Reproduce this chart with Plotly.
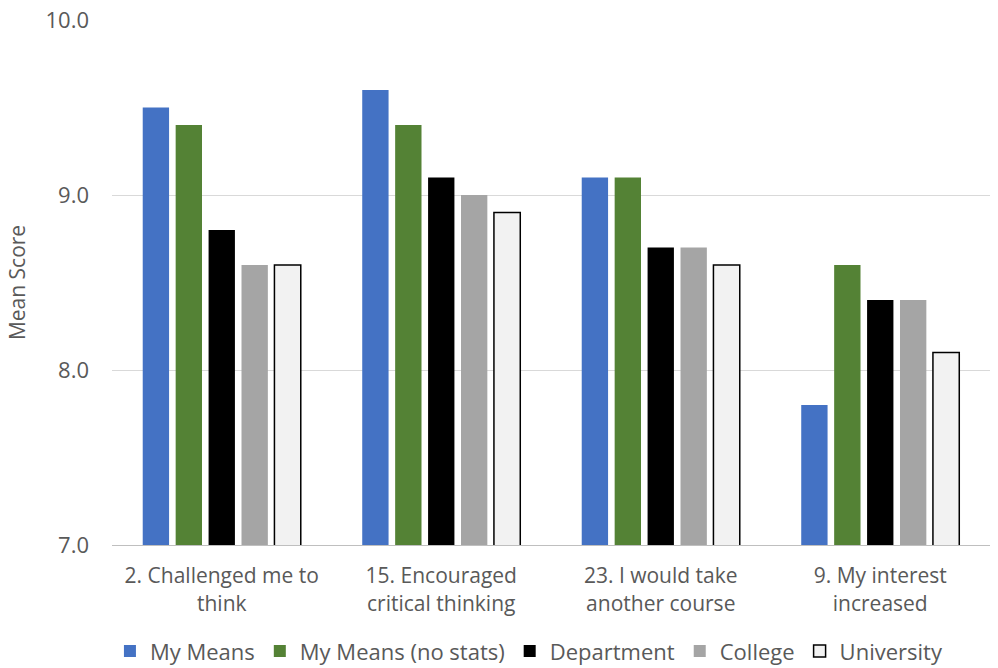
import plotly.graph_objects as go

categories = [
    "2. Challenged me to<br>think",
    "15. Encouraged<br>critical thinking",
    "23. I would take<br>another course",
    "9. My interest<br>increased",
]
my_means = [9.5, 9.6, 9.1, 7.8]
my_means_no_stats = [9.4, 9.4, 9.1, 8.6]
department = [8.8, 9.1, 8.7, 8.4]
college = [8.6, 9.0, 8.7, 8.4]
university = [8.6, 8.9, 8.6, 8.1]

series = [
    ("My Means", my_means, "#4472C4", "#4472C4", 0),
    ("My Means (no stats)", my_means_no_stats, "#548235", "#548235", 0),
    ("Department", department, "#000000", "#000000", 0),
    ("College", college, "#A5A5A5", "#A5A5A5", 0),
    ("University", university, "#F2F2F2", "#000000", 1.5),
]

font_family = "Open Sans, DejaVu Sans, sans-serif"
text_color = "#595959"

fig = go.Figure()
for name, values, fill, line_color, line_width in series:
    fig.add_trace(go.Bar(
        name=name,
        x=categories,
        y=values,
        marker=dict(color=fill, line=dict(color=line_color, width=line_width)),
    ))

fig.update_layout(
    width=998,
    height=668,
    margin=dict(l=112, r=8, t=20, b=123, autoexpand=False),
    paper_bgcolor="white",
    plot_bgcolor="white",
    barmode="group",
    bargap=0.25,
    bargroupgap=0.2,
    font=dict(family=font_family, color=text_color, size=21),
    legend=dict(
        orientation="h",
        x=0.53,
        xref="container",
        xanchor="center",
        y=0.025,
        yref="container",
        yanchor="middle",
        font=dict(size=22, color=text_color),
        itemwidth=30,
        traceorder="normal",
    ),
    xaxis=dict(
        showgrid=False,
        showline=True,
        linecolor="#BFBFBF",
        linewidth=1,
        ticks="",
        ticklabelstandoff=12,
        tickfont=dict(size=21, color=text_color),
    ),
    yaxis=dict(
        range=[7, 10],
        dtick=1,
        tickformat=".1f",
        showgrid=True,
        gridcolor="#D9D9D9",
        gridwidth=1,
        zeroline=False,
        showline=False,
        ticks="",
        ticklabelstandoff=22,
        tickfont=dict(size=22, color=text_color),
        title=dict(text="Mean Score", font=dict(size=21, color=text_color), standoff=14),
    ),
)

fig.write_html("out.html")
